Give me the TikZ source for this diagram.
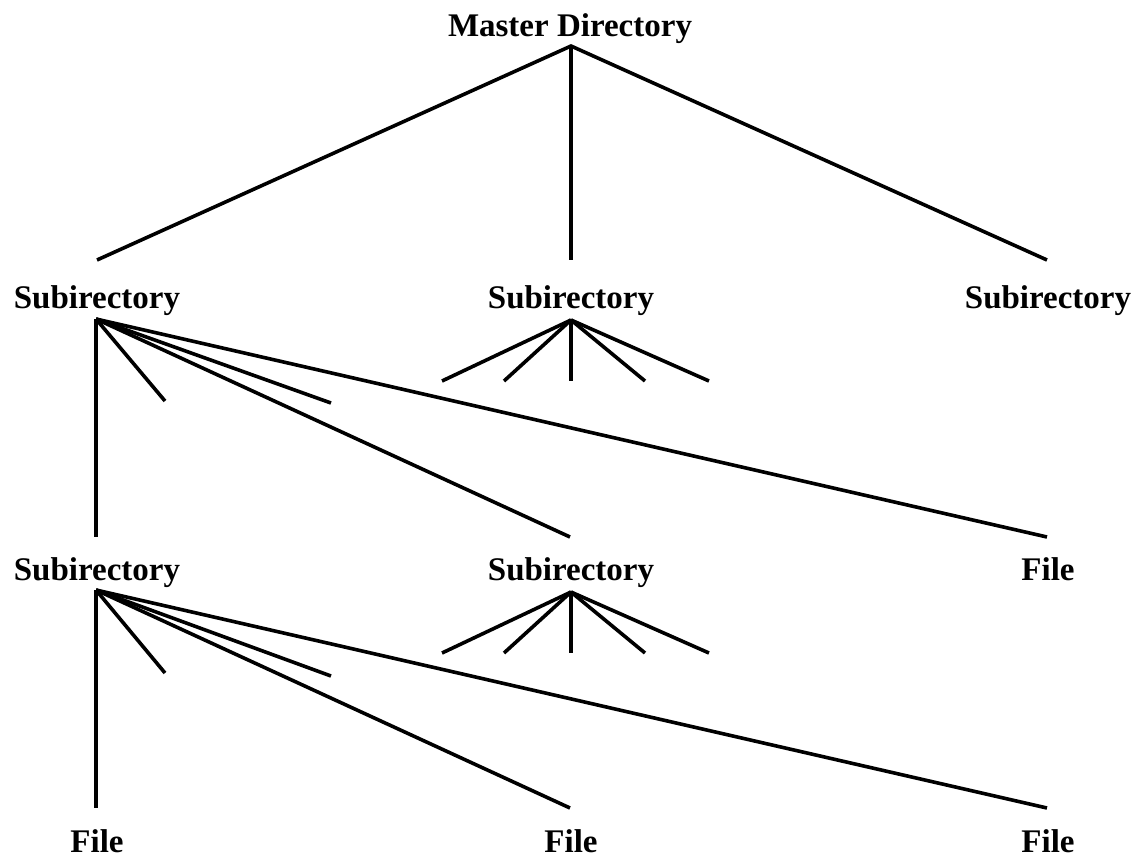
\documentclass[tikz,border=0pt]{standalone}
\usepackage{fontspec}
\setmainfont{Liberation Serif}
\begin{document}
\begin{tikzpicture}[x=1pt,y=-1pt,
  lbl/.style={font=\fontsize{33}{36}\selectfont\bfseries, anchor=base, inner sep=0pt},
  edge/.style={line width=3.6pt, line cap=butt}]
\useasboundingbox (0,0) rectangle (1142,860);
% labels
\node[lbl] (md) at (570,36) {Master Directory};
\node[lbl] (s1a) at (97,308) {Subirectory};
\node[lbl] (s1b) at (571,308) {Subirectory};
\node[lbl] (s1c) at (1048,308) {Subirectory};
\node[lbl] (s2a) at (97,580) {Subirectory};
\node[lbl] (s2b) at (571,580) {Subirectory};
\node[lbl] (f2c) at (1048,580) {File};
\node[lbl] (f3a) at (97,852) {File};
\node[lbl] (f3b) at (571,852) {File};
\node[lbl] (f3c) at (1048,852) {File};
% apex and end coordinates
\coordinate (mdA) at (571,46);
\coordinate (t1a) at (97,260);
\coordinate (t1b) at (571,260);
\coordinate (t1c) at (1047,260);
\coordinate (s1aA) at (96,319);
\coordinate (s1bA) at (571,320);
\coordinate (s2aA) at (96,590);
\coordinate (s2bA) at (571,592);
\coordinate (t2a) at (96,537);
\coordinate (t2b) at (570,537);
\coordinate (t2c) at (1047,537);
\coordinate (t3a) at (96,808);
\coordinate (t3b) at (570,808);
\coordinate (t3c) at (1047,808);
\coordinate (p1) at (165,401);
\coordinate (p2) at (331,403);
\coordinate (p3) at (165,673);
\coordinate (p4) at (331,676);
% master
\draw[edge] (t1a) -- (mdA) -- (t1c);
\draw[edge] (mdA) -- (t1b);
% row 1 left
\foreach \e in {t2a,p1,p2,t2b,t2c} \draw[edge] (s1aA) -- (\e);
% row 2 left
\foreach \e in {t3a,p3,p4,t3b,t3c} \draw[edge] (s2aA) -- (\e);
% fans
\foreach \x [count=\i] in {442,504,571,645,709} {
  \coordinate (fa\i) at (\x,381);
  \coordinate (fb\i) at (\x,653);
  \draw[edge] (s1bA) -- (fa\i);
  \draw[edge] (s2bA) -- (fb\i);
}
\end{tikzpicture}
\end{document}
